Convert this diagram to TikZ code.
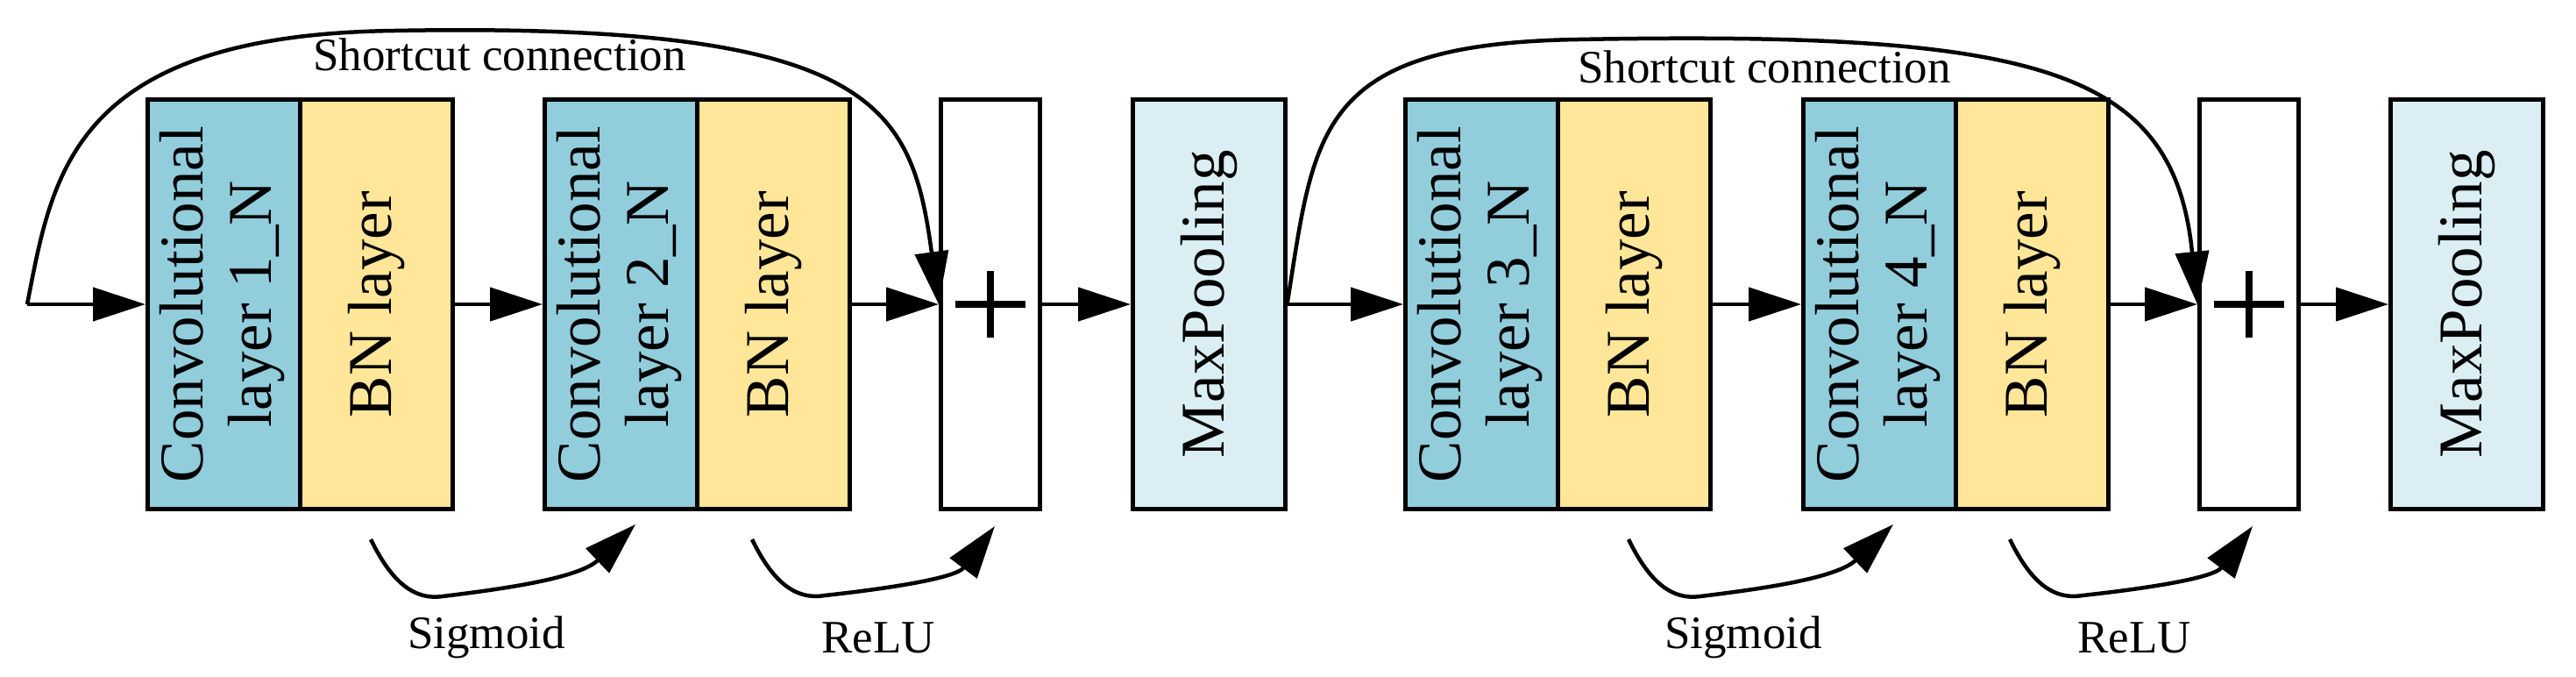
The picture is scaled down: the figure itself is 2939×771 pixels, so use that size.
\documentclass[tikz,border=0pt]{standalone}
\usepackage{fontspec}
\setmainfont{Liberation Serif}
\usetikzlibrary{arrows.meta}
\definecolor{convc}{RGB}{146,205,220}
\definecolor{bnc}{RGB}{255,230,153}
\definecolor{mpc}{RGB}{218,238,243}
\begin{document}
\begin{tikzpicture}[x=1pt,y=-1pt,
  box/.style={draw,line width=4.5pt,inner sep=0pt,minimum height=467pt,anchor=west,font=\fontsize{71}{78}\selectfont},
  conv/.style={box,fill=convc,minimum width=174pt},
  bn/.style={box,fill=bnc,minimum width=174pt},
  mp/.style={box,fill=mpc,minimum width=174pt},
  plus/.style={box,fill=white,minimum width=113pt,
    path picture={\draw[line width=8pt] ([xshift=-40pt]path picture bounding box.center) -- ([xshift=40pt]path picture bounding box.center);
      \draw[line width=8pt] ([yshift=-38pt]path picture bounding box.center) -- ([yshift=38pt]path picture bounding box.center);}},
  arr/.style={line width=4.5pt,-{Triangle[length=60pt,width=38pt]}},
  lbl/.style={font=\fontsize{53}{60}\selectfont,inner sep=0pt}]
\useasboundingbox (0,0) rectangle (2939,771);
\def\cv#1{\rotatebox{90}{\begin{tabular}{@{}c@{}}Convolutional\\layer #1\_N\end{tabular}}}
\node[conv] (c1) at (166,347) {\cv{1}};
\node[bn] (b1) at (340,347) {\rotatebox{90}{BN layer}};
\node[conv] (c2) at (619,347) {\cv{2}};
\node[bn] (b2) at (793,347) {\rotatebox{90}{BN layer}};
\node[plus,minimum width=113pt] (p1) at (1071,347) {};
\node[mp,minimum width=174pt] (m1) at (1290,347) {\rotatebox{90}{MaxPooling}};
\node[conv] (c3) at (1601,347) {\cv{3}};
\node[bn] (b3) at (1775,347) {\rotatebox{90}{BN layer}};
\node[conv] (c4) at (2055,347) {\cv{4}};
\node[bn] (b4) at (2229,347) {\rotatebox{90}{BN layer}};
\node[plus] (p2) at (2507,347) {};
\node[mp] (m2) at (2725,347) {\rotatebox{90}{MaxPooling}};
\coordinate (in) at (31,347);
\draw[arr] (in) -- (c1.west);
\draw[arr] (b1.east) -- (c2.west);
\draw[arr] (b2.east) -- (p1.west);
\draw[arr] (p1.east) -- (m1.west);
\draw[arr] (m1.east) -- (c3.west);
\draw[arr] (b3.east) -- (c4.west);
\draw[arr] (b4.east) -- (p2.west);
\draw[arr] (p2.east) -- (m2.west);
% shortcuts
\draw[arr] (in) .. controls (60,200) and (80,40) .. (450,35) .. controls (1000,25) and (1040,120) .. (p1.west);
\draw[arr] (m1.east) .. controls (1500,150) and (1500,50) .. (1800,45) .. controls (2330,35) and (2480,80) .. (p2.west);
\node[lbl] (s1) at (570,62) {Shortcut connection};
\node[lbl] (s2) at (2013,76) {Shortcut connection};
% activation arrows
\foreach \dx/\n in {0/a,1435/b}{
  \coordinate (sg\n s) at (423+\dx,615);
  \coordinate (sg\n m) at (505+\dx,680);
  \coordinate (sg\n e) at (725+\dx,598);
  \coordinate (re\n s) at (858+\dx,615);
  \coordinate (re\n m) at (941+\dx,679);
  \coordinate (re\n e) at (1135+\dx,600);
}
\draw[arr] (sgas) .. controls (445,660) and (470,685) .. (sgam) .. controls (570,672) and (660,660) .. (sgae);
\draw[arr] (reas) .. controls (880,660) and (905,685) .. (ream) .. controls (1005,672) and (1090,660) .. (reae);
\draw[arr] (sgbs) .. controls (1880,660) and (1905,685) .. (sgbm) .. controls (2005,672) and (2095,660) .. (sgbe);
\draw[arr] (rebs) .. controls (2315,660) and (2340,685) .. (rebm) .. controls (2440,672) and (2525,660) .. (rebe);
\node[lbl] (t1) at (555,727) {Sigmoid};
\node[lbl] (t2) at (1002,727) {ReLU};
\node[lbl] (t3) at (1989,727) {Sigmoid};
\node[lbl] (t4) at (2435,727) {ReLU};
\end{tikzpicture}
\end{document}
